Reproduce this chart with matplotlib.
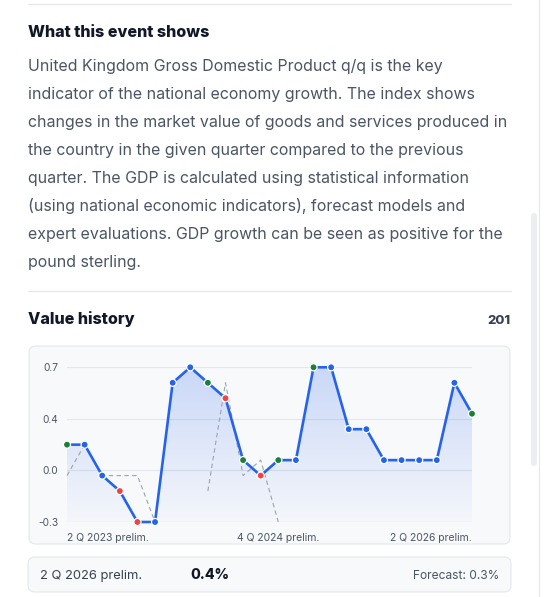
import numpy as np
import matplotlib
matplotlib.use('Agg')
import matplotlib.pyplot as plt
from matplotlib.patches import FancyBboxPatch, Polygon

plt.rcParams['font.family'] = ['Inter', 'DejaVu Sans']

# --- data ---
actual = [0.2, 0.2, 0.0, -0.1, -0.3, -0.3, 0.6, 0.7, 0.6, 0.5, 0.1, 0.0,
          0.1, 0.1, 0.7, 0.7, 0.3, 0.3, 0.1, 0.1, 0.1, 0.1, 0.6, 0.4]
forecast = [0.0, 0.2, 0.0, 0.0, 0.0, -0.3, None, None, -0.1, 0.6, 0.0, 0.1,
            -0.3, None, 0.6, None, None, None, None, None, None, None, None, 0.3]
tick_idx = [0, 12, 23]
tick_labels = ['2 Q 2023 prelim.', '4 Q 2024 prelim.', '2 Q 2026 prelim.']

heading = 'What this event shows'
paragraph = [
    'United Kingdom Gross Domestic Product q/q is the key',
    'indicator of the national economy growth. The index shows',
    'changes in the market value of goods and services produced in',
    'the country in the given quarter compared to the previous',
    'quarter. The GDP is calculated using statistical information',
    '(using national economic indicators), forecast models and',
    'expert evaluations. GDP growth can be seen as positive for the',
    'pound sterling.',
]
latest_period = '2 Q 2026 prelim.'
latest_value = '0.4%'
latest_forecast = 'Forecast: 0.3%'

W, H = 550, 597
fig = plt.figure(figsize=(W / 100, H / 100), dpi=100)
fig.patch.set_facecolor('white')

# page layer in pixel coordinates
bg = fig.add_axes([0, 0, 1, 1])
bg.set_xlim(0, W)
bg.set_ylim(H, 0)
bg.axis('off')

line_c = '#e5e7eb'
bg.plot([28, 511], [4, 4], color=line_c, lw=0.8)
bg.plot([28, 511], [291, 291], color=line_c, lw=0.8)
bg.plot([539, 539], [0, H], color=line_c, lw=0.8)
# scrollbar thumb
bg.add_patch(FancyBboxPatch((531, 213), 6, 253, boxstyle='round,pad=0,rounding_size=3',
                            fc='#eceef2', ec='none'))

bg.text(28, 37, heading, fontsize=11.55, fontweight=800, color='#111827', va='baseline')
for i, ln in enumerate(paragraph):
    bg.text(28, 71 + 28 * i, ln, fontsize=11.47, color='#4b5563', va='baseline')

bg.text(28, 324, 'Value history', fontsize=11.55, fontweight=800, color='#111827', va='baseline')
bg.text(511, 324, '201', fontsize=9.4, fontweight=800, color='#374151', va='baseline', ha='right')

# chart panel and bottom summary box
bg.add_patch(FancyBboxPatch((29, 346), 481, 198, boxstyle='round,pad=0,rounding_size=7',
                            fc='#f8f9fb', ec=line_c, lw=0.8))
bg.add_patch(FancyBboxPatch((28, 557), 483, 35, boxstyle='round,pad=0,rounding_size=7',
                            fc='#f8f9fb', ec=line_c, lw=0.8))
bg.text(40, 579, latest_period, fontsize=9.3, color='#374151', va='baseline')
bg.text(190, 579, latest_value, fontsize=10.2, fontweight=800, color='#111827', va='baseline')
bg.text(499, 579, latest_forecast, fontsize=8.6, color='#4b5563', va='baseline', ha='right')

# chart axes
x0, x1, ytop, ybot = 67, 472, 367.3, 522
ax = fig.add_axes([x0 / W, 1 - ybot / H, (x1 - x0) / W, (ybot - ytop) / H])
ax.set_facecolor('none')
for s in ax.spines.values():
    s.set_visible(False)

x = np.arange(len(actual))
y = np.array(actual, dtype=float)
fc = np.array([np.nan if v is None else v for v in forecast], dtype=float)
ymin, ymax = -0.3, 0.7
ax.set_xlim(0, len(actual) - 1)
ax.set_ylim(ymin, ymax)

yt = np.linspace(ymin, ymax, 4)
ax.set_yticks(yt)
ax.set_yticklabels([f'{v:.1f}' for v in yt])
ax.grid(axis='y', color='#e3e6ea', lw=0.8)
ax.set_axisbelow(True)
ax.tick_params(axis='y', length=0, pad=6.5, labelsize=7.3, labelcolor='#4b5563')
ax.set_xticks(tick_idx)
ax.set_xticklabels(tick_labels)
ax.tick_params(axis='x', length=0, pad=8, labelsize=7.5, labelcolor='#4b5563')
for lab, ha in zip(ax.get_xticklabels(), ['left', 'center', 'right']):
    lab.set_ha(ha)

# gradient area under the line
blue = np.array([37, 99, 235]) / 255
grad = np.zeros((256, 1, 4))
grad[:, 0, :3] = blue
grad[:, 0, 3] = np.linspace(0.22, 0.02, 256)
im = ax.imshow(grad, extent=[x[0], x[-1], ymin, ymax], aspect='auto', zorder=1)
poly = Polygon(np.vstack([np.column_stack([x, y]), [[x[-1], ymin], [x[0], ymin]]]),
               closed=True, transform=ax.transData, fc='none', ec='none')
ax.add_patch(poly)
im.set_clip_path(poly)

ax.plot(x, fc, color='#9ca3af', lw=0.8, ls=(0, (4, 3)), zorder=2, clip_on=False)
ax.plot(x, y, color='#2563eb', lw=1.9, zorder=3, clip_on=False, solid_joinstyle='round')

colors = []
for a, f in zip(y, fc):
    if np.isnan(f) or a == f:
        colors.append('#2563eb')
    elif a > f:
        colors.append('#1a7f37')
    else:
        colors.append('#ef4444')
ax.scatter(x, y, s=26, c=colors, edgecolors='white', linewidths=0.9, zorder=4, clip_on=False)

fig.savefig('out.png', dpi=100)
